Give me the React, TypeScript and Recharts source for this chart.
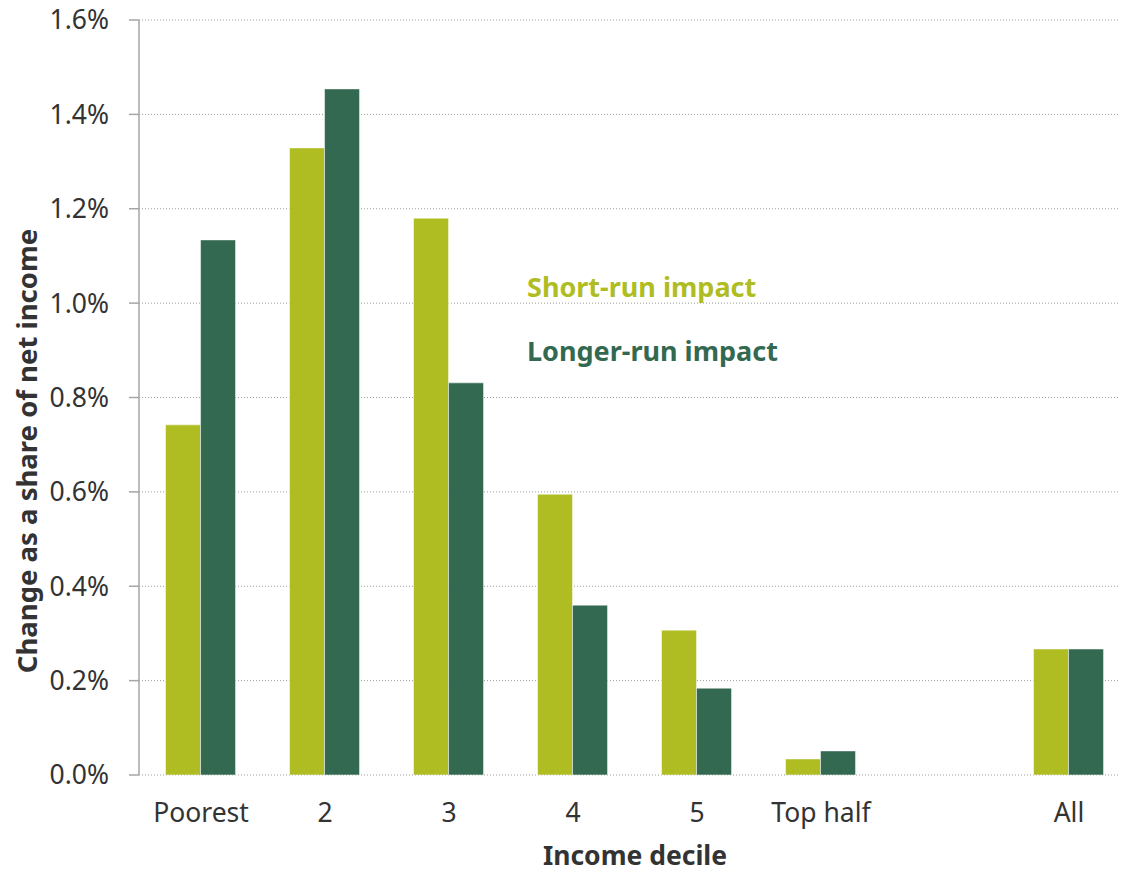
import { BarChart, Bar, XAxis, YAxis, CartesianGrid } from 'recharts'

const CATEGORIES = ['Poorest', '2', '3', '4', '5', 'Top half', '', 'All']
const SHORT_RUN = [0.742, 1.329, 1.18, 0.595, 0.307, 0.034, null, 0.267]
const LONGER_RUN = [1.134, 1.454, 0.831, 0.36, 0.184, 0.051, null, 0.267]
const Y_TICKS = [0, 0.2, 0.4, 0.6, 0.8, 1.0, 1.2, 1.4, 1.6]

const SERIES = [
  { key: 'shortRun', label: 'Short-run impact', color: '#afbd22' },
  { key: 'longerRun', label: 'Longer-run impact', color: '#336950' },
]

const data = CATEGORIES.map((name, i) => ({
  name,
  shortRun: SHORT_RUN[i],
  longerRun: LONGER_RUN[i],
}))

// tick marks sit between categories, not under them
const BOUNDARY_TICKS = [...CATEGORIES.map((_, i) => i), CATEGORIES.length]

const FONT = '"Noto Sans", "Open Sans", sans-serif'
const TEXT = '#333333'
const AXIS = '#a6a6a6'

export default function App() {
  return (
    <div
      style={{
        position: 'relative',
        margin: -8,
        width: 1126,
        height: 873,
        overflow: 'hidden',
        fontFamily: FONT,
        background: '#fff',
      }}
    >
      <BarChart
        width={1140}
        height={873}
        data={data}
        margin={{ top: 20, right: 9, bottom: 0, left: 0 }}
        barCategoryGap="21.4%"
        barGap={0}
      >
        <CartesianGrid
          horizontal
          vertical={false}
          stroke="#9a9a9a"
          strokeDasharray="1 2"
          yAxisId="y"
          xAxisId="cat"
        />
        <XAxis
          xAxisId="grid"
          type="number"
          domain={[0, CATEGORIES.length]}
          ticks={BOUNDARY_TICKS}
          height={0}
          tickSize={9}
          tickFormatter={() => ''}
          axisLine={{ stroke: AXIS, strokeWidth: 1.5 }}
          tickLine={{ stroke: AXIS, strokeWidth: 1.5 }}
        />
        <XAxis
          xAxisId="cat"
          dataKey="name"
          height={98}
          axisLine={false}
          tickLine={false}
          tickSize={0}
          tickMargin={28}
          interval={0}
          tick={{ fontSize: 26.5, fill: TEXT, fontFamily: FONT }}
          label={{
            content: () => (
              <text
                x={635}
                y={865}
                textAnchor="middle"
                fontSize={26.5}
                fontWeight={700}
                fill={TEXT}
                fontFamily={FONT}
              >
                Income decile
              </text>
            ),
          }}
        />
        <YAxis
          yAxisId="y"
          type="number"
          domain={[0, 1.6]}
          ticks={Y_TICKS}
          width={139}
          tickSize={10}
          tickMargin={20}
          tickFormatter={(v: number) => `${v.toFixed(1)}%`}
          tick={{ fontSize: 26.5, fill: TEXT, fontFamily: FONT }}
          axisLine={{ stroke: AXIS, strokeWidth: 1.5 }}
          tickLine={{ stroke: AXIS, strokeWidth: 1.5 }}
          label={{
            content: () => (
              <text
                x={37}
                y={451}
                transform="rotate(-90 37 451)"
                textAnchor="middle"
                fontSize={27.5}
                fontWeight={700}
                fill={TEXT}
                fontFamily={FONT}
              >
                Change as a share of net income
              </text>
            ),
          }}
        />
        {SERIES.map(s => (
          <Bar
            key={s.key}
            dataKey={s.key}
            name={s.label}
            fill={s.color}
            stroke="#ffffff"
            strokeWidth={0.5}
            xAxisId="cat"
            yAxisId="y"
            isAnimationActive={false}
          />
        ))}
      </BarChart>

      {/* legend sits inside the plot area */}
      <div style={{ position: 'absolute', left: 527, top: 255 }}>
        {SERIES.map(s => (
          <div
            key={s.key}
            style={{
              color: s.color,
              fontSize: 27,
              fontWeight: 700,
              lineHeight: '64px',
              height: 64,
              whiteSpace: 'nowrap',
            }}
          >
            {s.label}
          </div>
        ))}
      </div>
    </div>
  )
}
